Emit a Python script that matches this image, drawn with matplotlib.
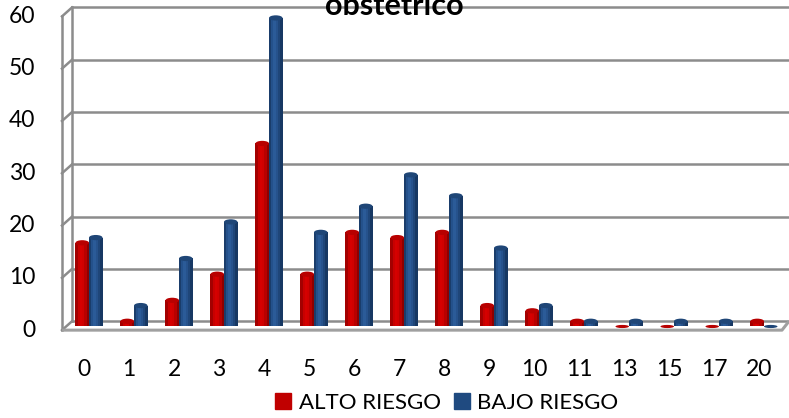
import matplotlib
matplotlib.use("Agg")
import matplotlib.pyplot as plt
from matplotlib.patches import Ellipse, Patch

# controles prenatales por riesgo obstetrico
categories = ["0", "1", "2", "3", "4", "5", "6", "7", "8", "9", "10", "11", "13", "15", "17", "20"]
alto_riesgo = [16, 1, 5, 10, 35, 10, 18, 17, 18, 4, 3, 1, 0, 0, 0, 1]
bajo_riesgo = [17, 4, 13, 20, 59, 18, 23, 29, 25, 15, 4, 1, 1, 1, 1, 0]
y_ticks = [0, 10, 20, 30, 40, 50, 60]

FONT = "Lato"
GRID = "#8c8c8c"

# cylinder shading, left to right across each bar
red_shades = ["#a30000", "#c80000", "#d60000", "#d00000", "#b80000", "#8e0000"]
blue_shades = ["#1a3d6b", "#24518b", "#2b5b98", "#26528c", "#1f4679", "#173863"]

fig = plt.figure(figsize=(7.89, 4.18), dpi=100)
ax = fig.add_axes([0, 0, 1, 1])
ax.set_xlim(-1.978, 15.556)
ax.set_ylim(-17.5, 62.43)
ax.axis("off")

# 3d box offsets (data units)
back_dy, front_dy = 1.0, -0.7
wall_front_x, wall_back_x = -0.6, -0.378
floor_right = 15.4

# back wall gridlines + slanted lines on the side wall
for v in y_ticks:
    ax.plot([wall_back_x, 15.6], [v + back_dy, v + back_dy], color=GRID, lw=1.8, zorder=1)
    ax.plot([wall_front_x, wall_back_x], [v + front_dy, v + back_dy], color=GRID, lw=1.8, zorder=1)
    ax.text(-1.2, v + front_dy, str(v), ha="right", va="center", fontsize=16.5, family=FONT)

ax.plot([wall_front_x, wall_front_x], [front_dy, 60 + front_dy], color=GRID, lw=1.8, zorder=1)
ax.plot([wall_back_x, wall_back_x], [back_dy, 60 + back_dy], color=GRID, lw=1.8, zorder=1)

# floor front edge
ax.plot([wall_front_x, floor_right, 15.556], [front_dy, front_dy, back_dy],
        color="#a0a0a0", lw=2.2, zorder=1, solid_capstyle="butt")

bar_w = 0.3
n_strips = len(red_shades)
strip_w = bar_w / n_strips


def draw_cylinders(values, offset, shades, cap_color):
    for i, val in enumerate(values):
        left = i + offset - bar_w / 2
        for k, c in enumerate(shades):
            ax.bar(left + (k + 0.5) * strip_w, val, width=strip_w * 1.02, color=c,
                   linewidth=0, zorder=3)
        # flatter disc when the bar has no height
        cap_h = 1.0 if val > 0 else 0.6
        ax.add_patch(Ellipse((i + offset, val), bar_w, cap_h, facecolor=cap_color,
                             edgecolor="none", zorder=4))


draw_cylinders(alto_riesgo, -0.15, red_shades, "#b80000")
draw_cylinders(bajo_riesgo, 0.15, blue_shades, "#1f4677")

for i, lab in enumerate(categories):
    ax.text(i - 0.11, -8.3, lab, ha="center", va="center", fontsize=16.5, family=FONT)

fig.text(0.5, 1 - 15 / 418, "obstetrico", ha="center", va="baseline",
         fontsize=22, fontweight="bold", family=FONT)

handles = [Patch(color="#c00000", label="ALTO RIESGO"),
           Patch(color="#1f4a80", label="BAJO RIESGO")]
fig.legend(handles=handles, loc="center", bbox_to_anchor=(447 / 789, 1 - 403 / 418),
           ncol=2, frameon=False, handlelength=0.7, handleheight=0.7,
           handletextpad=0.35, columnspacing=0.6, borderaxespad=0,
           prop={"family": FONT, "size": 16})

fig.savefig("out.png", dpi=100)
